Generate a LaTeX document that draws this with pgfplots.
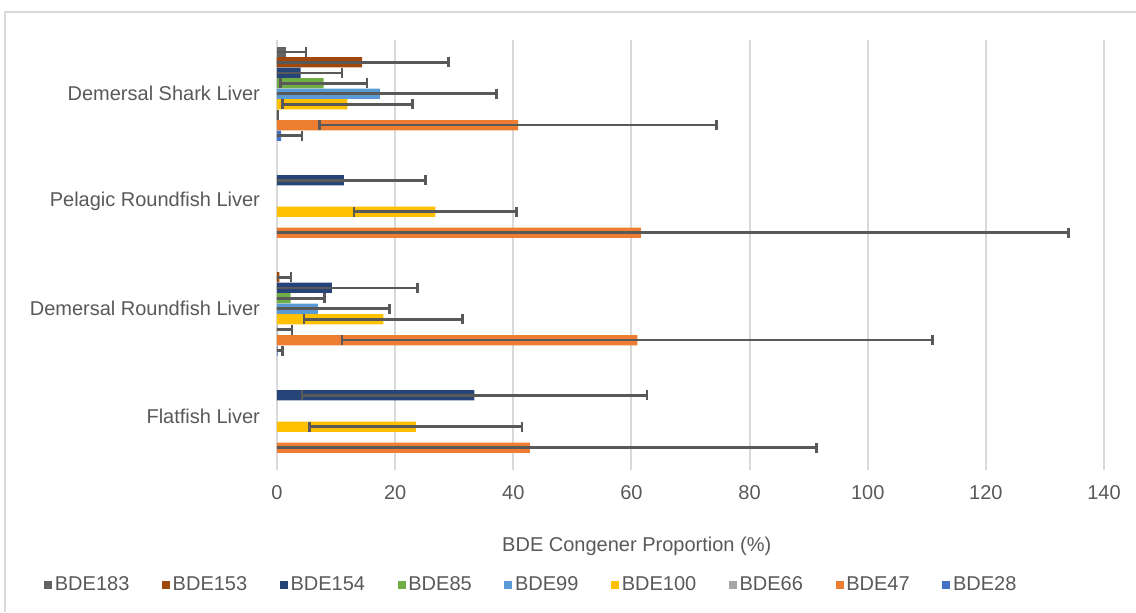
\documentclass[border=0pt]{standalone}
\usepackage{pgfplots}
\pgfplotsset{compat=1.18}
\usepackage{fontspec}
\setmainfont{Liberation Sans}
\definecolor{txt}{HTML}{595959}
\definecolor{gridc}{HTML}{D9D9D9}
\definecolor{errc}{HTML}{595959}
\definecolor{cA}{HTML}{636363}
\definecolor{cB}{HTML}{9E480E}
\definecolor{cC}{HTML}{264478}
\definecolor{cD}{HTML}{70AD47}
\definecolor{cE}{HTML}{5B9BD5}
\definecolor{cF}{HTML}{FFC000}
\definecolor{cG}{HTML}{A5A5A5}
\definecolor{cH}{HTML}{ED7D31}
\definecolor{cI}{HTML}{4472C4}
\newcommand{\myfont}{\fontsize{15pt}{18pt}\selectfont}
\pgfplotsset{
  sq legend/.style={legend image code/.code={\fill[##1] (0pt,-3pt) rectangle (6pt,3pt);}},
  eb/.style={error bars/.cd, x dir=both, x explicit,
    error bar style={color=errc, line width=1.9pt},
    error mark=|,
    error mark options={color=errc, line width=1.9pt, mark size=3.8pt}},
}
\begin{document}
\begin{tikzpicture}
\useasboundingbox (0,0) rectangle (852pt,459pt);
\draw[color=gridc, line width=0.9pt] (3.75pt,0pt) -- (3.75pt,450pt) -- (852pt,450pt);
\begin{axis}[
  at={(207.75pt,106.5pt)}, anchor=south west,
  scale only axis, width=620.25pt, height=322.5pt,
  xmin=0, xmax=140, ymin=0.5, ymax=4.5,
  xtick={0,20,...,140}, ytick={1,2,3,4},
  yticklabels={Flatfish Liver, Demersal Roundfish Liver, Pelagic Roundfish Liver, Demersal Shark Liver},
  axis line style={draw=none}, tick style={draw=none},
  xmajorgrids, major grid style={color=gridc, line width=1.5pt},
  /pgf/number format/assume math mode=true,
  tick label style={font=\myfont, text=txt},
  xticklabel style={yshift=-8pt},
  yticklabel style={xshift=-5pt},
  xlabel={BDE Congener Proportion (\%)},
  xlabel style={font=\myfont, text=txt, at={(axis description cs:0.435,-0.178)}, anchor=center},
  xbar, bar width=0.095,
  every axis plot post/.append style={sq legend},
  legend columns=9,
  legend style={draw=none, fill=none, font=\myfont, text=txt,
    at={(axis description cs:-0.2866,-0.2674)}, anchor=west,
    /tikz/every even column/.append style={column sep=22.5pt}},
  legend cell align=left,
]
\addplot[fill=cA, draw=none, bar shift=0.39, eb] table[x=x,y=y,x error=e] {
x y e
1.6 4 3.3
};
\addplot[fill=cB, draw=none, bar shift=0.2925, eb] table[x=x,y=y,x error=e] {
x y e
0.4 2 2.0
14.4 4 14.6
};
\addplot[fill=cC, draw=none, bar shift=0.195, eb] table[x=x,y=y,x error=e] {
x y e
33.4 1 29.2
9.3 2 14.5
11.3 3 13.8
4.0 4 7.0
};
\addplot[fill=cD, draw=none, bar shift=0.0975, eb] table[x=x,y=y,x error=e] {
x y e
2.3 2 5.7
7.9 4 7.3
};
\addplot[fill=cE, draw=none, bar shift=0, eb] table[x=x,y=y,x error=e] {
x y e
6.9 2 12.1
17.4 4 19.8
};
\addplot[fill=cF, draw=none, bar shift=-0.0975, eb] table[x=x,y=y,x error=e] {
x y e
23.5 1 18.0
18.0 2 13.4
26.8 3 13.75
11.9 4 11.0
};
\addplot[fill=cG, draw=none, bar shift=-0.195, eb] table[x=x,y=y,x error=e] {
x y e
0.1 2 2.4
0.05 4 0.05
};
\addplot[fill=cH, draw=none, bar shift=-0.2925, eb] table[x=x,y=y,x error=e] {
x y e
42.8 1 48.5
61.0 2 50.0
61.6 3 72.4
40.8 4 33.6
};
\addplot[fill=cI, draw=none, bar shift=-0.39, eb] table[x=x,y=y,x error=e] {
x y e
0.1 2 0.8
0.7 4 3.5
};
\legend{BDE183,BDE153,BDE154,BDE85,BDE99,BDE100,BDE66,BDE47,BDE28}
\end{axis}
\end{tikzpicture}
\end{document}
